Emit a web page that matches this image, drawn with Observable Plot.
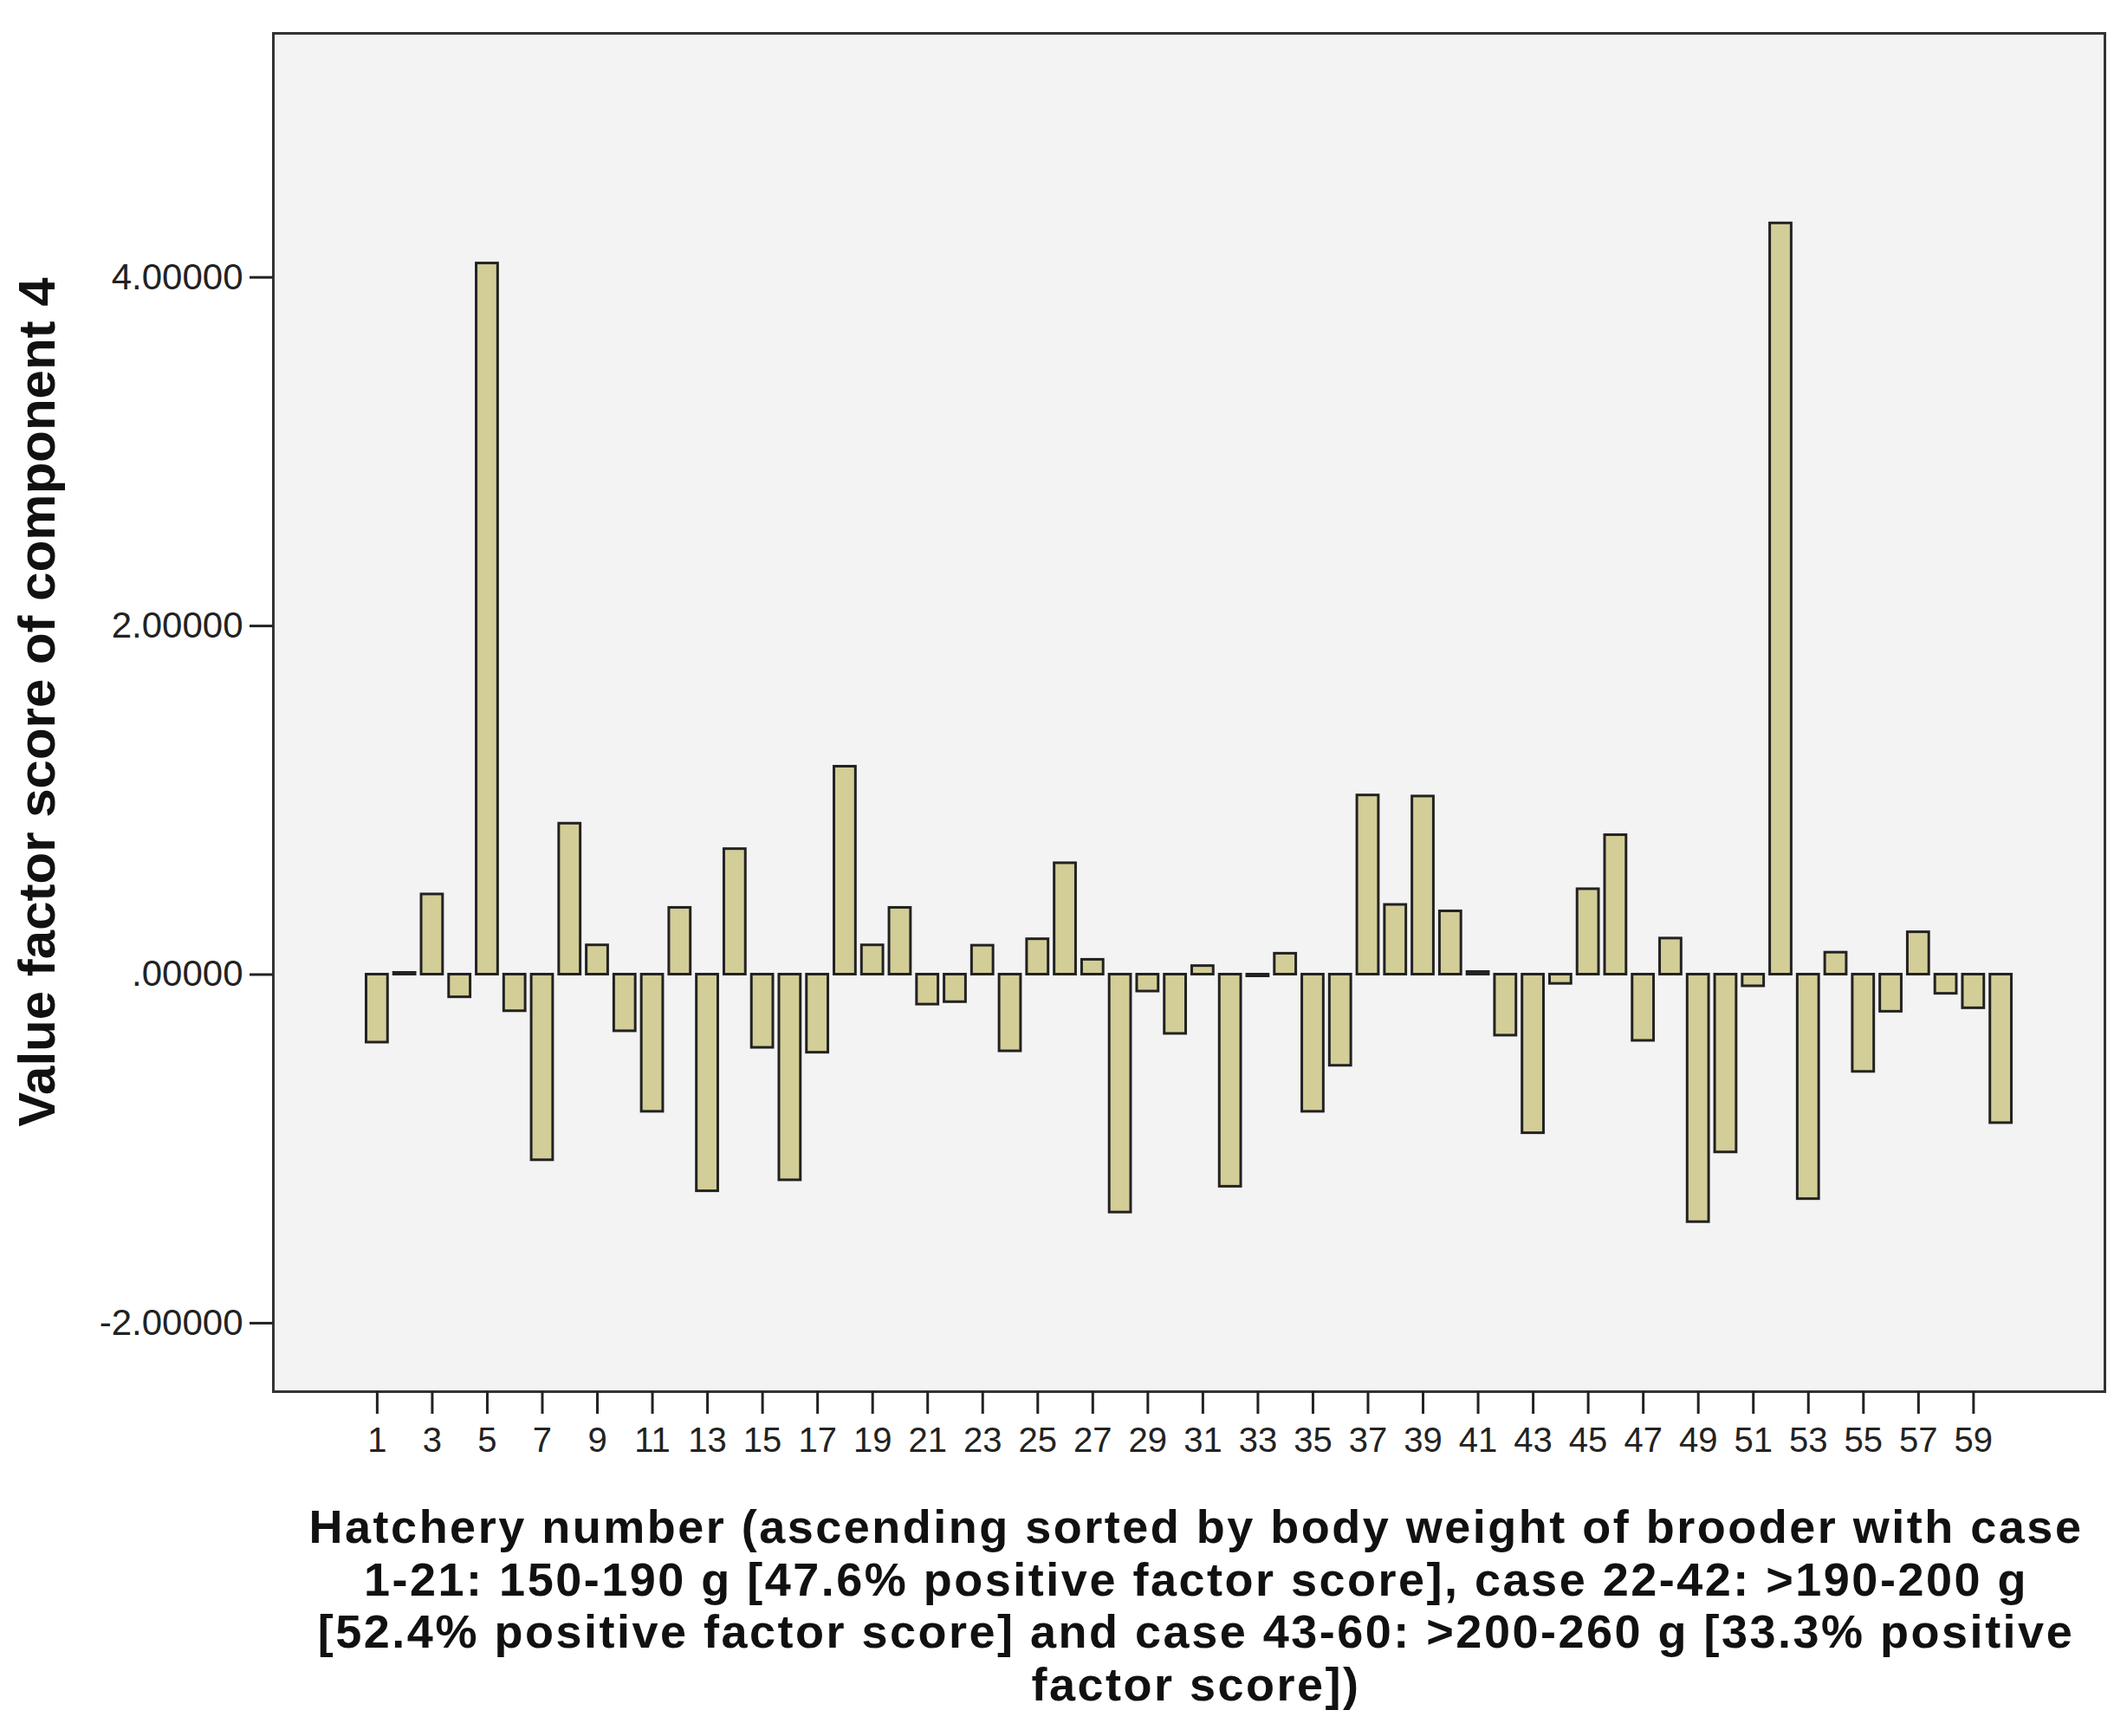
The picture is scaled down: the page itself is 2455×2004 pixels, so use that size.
<!DOCTYPE html>
<html>
<head>
<meta charset="utf-8">
<script src="https://cdn.jsdelivr.net/npm/d3@7"></script>
<script src="https://cdn.jsdelivr.net/npm/@observablehq/plot@0.6"></script>
<style>
  html, body { margin: 0; padding: 0; background: #ffffff; }
  #chart svg { display: block; }
</style>
</head>
<body>
<div id="chart"></div>
<script>
// Hatchery case numbers (x categories)
const cases = [
  1, 2, 3, 4, 5, 6, 7, 8, 9, 10,
  11, 12, 13, 14, 15, 16, 17, 18, 19, 20,
  21, 22, 23, 24, 25, 26, 27, 28, 29, 30,
  31, 32, 33, 34, 35, 36, 37, 38, 39, 40,
  41, 42, 43, 44, 45, 46, 47, 48, 49, 50,
  51, 52, 53, 54, 55, 56, 57, 58, 59, 60
];

// Factor score of component 4
const scores = [
  -0.39, 0.01, 0.46, -0.13, 4.08, -0.21, -1.065, 0.866, 0.168, -0.325,
  -0.787, 0.383, -1.243, 0.72, -0.42, -1.18, -0.448, 1.193, 0.168, 0.383,
  -0.172, -0.158, 0.166, -0.44, 0.203, 0.639, 0.085, -1.365, -0.097, -0.34,
  0.049, -1.217, -0.01, 0.12, -0.787, -0.523, 1.028, 0.40, 1.022, 0.363,
  0.015, -0.35, -0.91, -0.053, 0.49, 0.80, -0.38, 0.207, -1.42, -1.02,
  -0.067, 4.31, -1.288, 0.126, -0.558, -0.213, 0.243, -0.11, -0.193, -0.852
];

// Tick labels
const xTicks = [1, 3, 5, 7, 9, 11, 13, 15, 17, 19, 21, 23, 25, 27, 29,
                31, 33, 35, 37, 39, 41, 43, 45, 47, 49, 51, 53, 55, 57, 59];
const yTicks = [-2, 0, 2, 4];

// Axis titles
const yTitle = "Value factor score of component 4";
const xTitleLines = [
  "Hatchery number (ascending sorted by body weight of brooder with case",
  "1-21: 150-190 g [47.6% positive factor score], case 22-42: >190-200 g",
  "[52.4% positive factor score] and case 43-60: >200-260 g [33.3% positive",
  "factor score])"
];

const data = cases.map((c, i) => ({hatchery: c, score: scores[i]}));
const fmtY = d => d.toFixed(5).replace(/^0\./, ".");

const chart = Plot.plot({
  width: 2455,
  height: 2004,
  marginLeft: 315,
  marginRight: 26,
  marginTop: 38,
  marginBottom: 398,
  style: {fontFamily: "'Liberation Sans', Arial, sans-serif", background: "#ffffff", color: "#111"},
  x: {type: "band", domain: cases, paddingInner: 0.22, paddingOuter: 0.11, insetLeft: 104, insetRight: 104},
  y: {domain: [-2.393, 5.40]},
  marks: [
    Plot.frame({fill: "#f3f3f3", stroke: null}),
    Plot.barY(data, {x: "hatchery", y: "score", fill: "#d3ce97", stroke: "#222", strokeWidth: 3}),
    Plot.frame({stroke: "#333", strokeWidth: 3}),
    Plot.axisY({ticks: yTicks, tickFormat: fmtY, tickSize: 27, tickPadding: 8, fontSize: 42,
                stroke: "#222", strokeWidth: 3, fill: "#222", label: null}),
    Plot.axisX({ticks: xTicks, tickSize: 26, tickPadding: 15, fontSize: 40,
                stroke: "#222", strokeWidth: 3, fill: "#222", label: null}),
    Plot.text([yTitle], {frameAnchor: "left", textAnchor: "middle", lineAnchor: "middle",
                rotate: -90, dx: -272, dy: -12, fontSize: 60, fontWeight: "bold", fill: "#111"}),
    Plot.text([xTitleLines.join("\n")], {frameAnchor: "bottom", textAnchor: "middle", lineAnchor: "top",
                dx: 8, dy: 132, fontSize: 54, lineHeight: 1.12, fontWeight: "bold", fill: "#111"})
  ]
});

// Slight letter spacing on the multi-line x title (SPSS-like rendering)
d3.select(chart).selectAll("text")
  .filter(function() { return this.textContent.startsWith("Hatchery"); })
  .style("letter-spacing", "2.5px");

document.getElementById("chart").appendChild(chart);
</script>
</body>
</html>
